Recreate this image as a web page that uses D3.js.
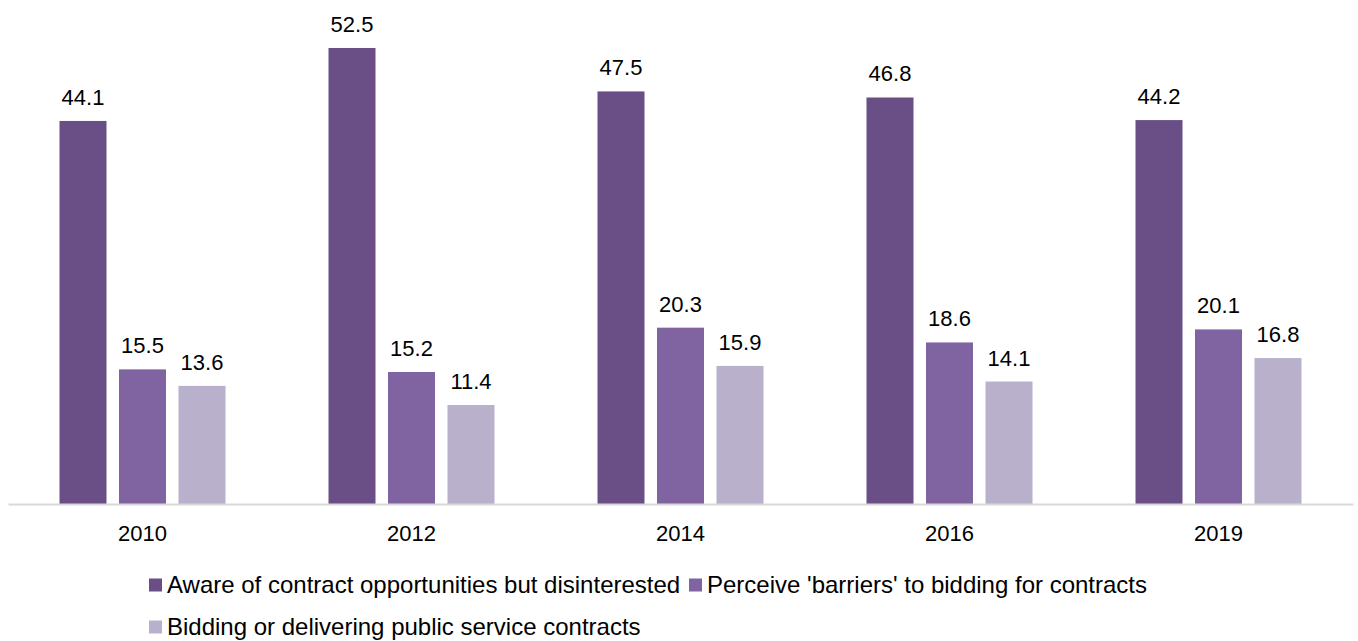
<!DOCTYPE html>
<html><head><meta charset="utf-8">
<script src="https://cdn.jsdelivr.net/npm/d3@7"></script>
<style>body{margin:0;background:#fff;} text{font-family:"Liberation Sans",Arial,sans-serif;}</style>
</head><body><svg id="c" width="1358" height="641"></svg>
<script>
const years = ["2010","2012","2014","2016","2019"];
const seriesNames = ["Aware of contract opportunities but disinterested","Perceive 'barriers' to bidding for contracts","Bidding or delivering public service contracts"];
const aware = [44.1,52.5,47.5,46.8,44.2];
const barriers = [15.5,15.2,20.3,18.6,20.1];
const bidding = [13.6,11.4,15.9,14.1,16.8];
const colors = ["#694f85","#8064a2","#b9b0cc"];
const seriesVals = [aware,barriers,bidding];

const svg = d3.select("#c");
const x0 = d3.scaleBand().domain(years).range([8,1353]).padding(0);
const x1 = d3.scaleBand().domain([0,1,2]).range([51.5,217.5]).paddingInner(0.21).paddingOuter(0);
const y = d3.scaleLinear().domain([0,55]).range([504, 504-55*8.686]);

const g = svg.append("g");
years.forEach((yr,i)=>{
  const gg = g.append("g").attr("transform",`translate(${x0(yr)},0)`);
  seriesVals.forEach((vals,s)=>{
    gg.append("rect").attr("x",x1(s)).attr("width",x1.bandwidth())
      .attr("y",y(vals[i])).attr("height",y(0)-y(vals[i])).attr("fill",colors[s]);
    gg.append("text").attr("x",x1(s)+x1.bandwidth()/2).attr("y",y(vals[i])-16)
      .attr("text-anchor","middle").attr("font-size",22).attr("fill","#000").text(vals[i].toFixed(1));
  });
});
// axis
const ax = svg.append("g").attr("transform","translate(0,504)").call(d3.axisBottom(x0).tickSize(0).tickPadding(21));
ax.select(".domain").attr("stroke","#d9d9d9").attr("stroke-width",2);
ax.selectAll("text").attr("font-size",22).attr("fill","#000").style("font-family","Liberation Sans, Arial, sans-serif");

// legend
const leg = [{s:0,x:149,y:585},{s:1,x:689,y:585},{s:2,x:149,y:627}];
leg.forEach(l=>{
  svg.append("rect").attr("x",l.x).attr("y",l.y-6.5).attr("width",13).attr("height",13).attr("fill",colors[l.s]);
  svg.append("text").attr("x",l.x+18).attr("y",l.y).attr("dy","0.35em").attr("font-size",24).attr("fill","#000").text(seriesNames[l.s]);
});
</script></body></html>
